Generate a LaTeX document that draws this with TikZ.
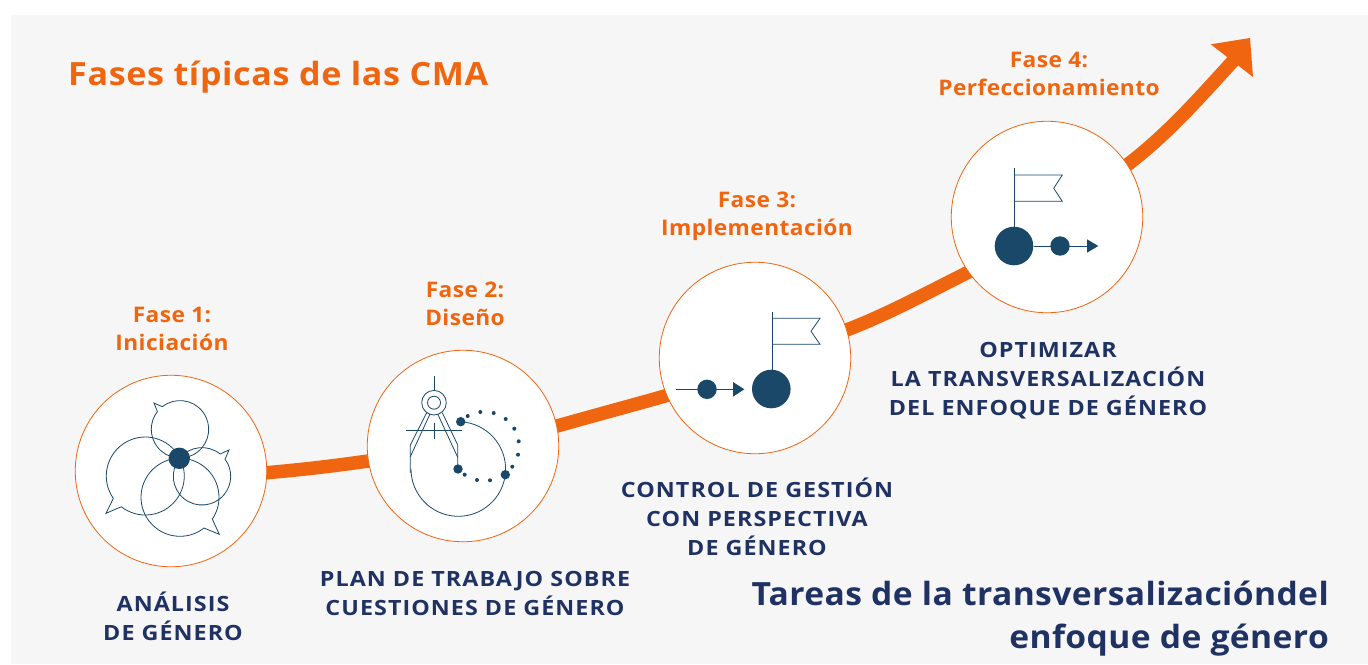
\documentclass[tikz,border=0pt]{standalone}
\usepackage{fontspec}
\setmainfont{Open Sans}
\newfontfamily\titlefont[FakeStretch=1.065,LetterSpace=2]{Open Sans}
\newfontfamily\phasefont[FakeStretch=1.055,LetterSpace=2]{Open Sans}
\newfontfamily\taskfont[FakeStretch=1.11,LetterSpace=5]{Open Sans}
\newfontfamily\bigfont[FakeStretch=1.05,LetterSpace=1.3]{Open Sans}
\usetikzlibrary{calc}
\definecolor{orangeM}{HTML}{F0650F}
\definecolor{iconN}{HTML}{1A4869}
\definecolor{titleN}{HTML}{1F3263}
\definecolor{panel}{HTML}{F6F6F6}
\newcommand{\bubbleicon}[7]{%
  \draw[iconline] ({#1+#3*cos(#4)},{#2-#3*sin(#4)}) arc[start angle=#4,end angle=#5,radius=#3 pt] -- (#6,#7) -- cycle;}
\tikzset{
  iconline/.style={draw=iconN,line width=0.8pt,line join=miter},
  phasecircle/.style={circle,draw=orangeM,fill=white,line width=0.8pt,minimum size=191.5pt,inner sep=0pt},
  bigdot/.style={circle,fill=iconN,inner sep=0pt,minimum size=9.4pt},
  smalldot/.style={circle,fill=iconN,inner sep=0pt,minimum size=4pt},
  road/.style={draw=orangeM,line width=13.5pt,line cap=butt},
  phaselabel/.style={text=orangeM,font=\phasefont\fontsize{21.5}{28}\selectfont\bfseries,align=center,inner sep=0pt},
  tasklabel/.style={text=titleN,font=\taskfont\fontsize{21}{29}\selectfont\bfseries,align=center,inner sep=0pt}
}
\begin{document}
\begin{tikzpicture}[x=1pt,y=-1pt]
\useasboundingbox (0,0) rectangle (1368,664);
\fill[white] (0,0) rectangle (1368,664);
\fill[panel] (11,15) rectangle (1368,664);
\path
  node[phasecircle,draw=none,fill=none] (p1) at (171,471) {}
  node[phasecircle,draw=none,fill=none] (p2) at (463,446) {}
  node[phasecircle,draw=none,fill=none] (p3) at (755,358) {}
  node[phasecircle,draw=none,fill=none] (p4) at (1047,217) {};
\coordinate (tipjoin) at (1234,60);
\draw[road,shorten <=-5pt,shorten >=-5pt] (p1.-1) .. controls +(35,-3) and +(-35,5) .. (p2.189.5);
\draw[road,shorten <=-5pt,shorten >=-5pt] (p2.12) .. controls +(35,-10) and +(-35,10) .. (p3.203);
\draw[road,shorten <=-5pt,shorten >=-5pt] (p3.17.5) .. controls +(40,-15) and +(-40,20) .. (p4.215);
\draw[road,shorten <=-5pt] (p4.33.5) .. controls +(40,-30) and +(-35,38) .. (tipjoin);
\fill[orangeM] (1250,38) -- (1210.7,44.3) -- (1253,77) -- cycle;
% circles
\node[phasecircle] (c1) at (171,471) {};
\node[phasecircle] (c2) at (463,446) {};
\node[phasecircle] (c3) at (755,358) {};
\node[phasecircle] (c4) at (1047,217) {};
% icon 1
\bubbleicon{180}{429.3}{28.7}{128}{-218}{154}{403}
\bubbleicon{145.3}{476}{39}{232}{575}{106}{513.3}
\bubbleicon{180}{497.3}{39}{-34}{308}{219.3}{534.3}
\bubbleicon{202}{476.3}{28.7}{51}{396.5}{229}{450}
\node[circle,fill=iconN,inner sep=0pt,minimum size=21.4pt] (hub) at (179.3,458.3) {};
% icon 2
\draw[iconline] (434,376) -- (434,390.4);
\draw[iconline] (434,402.7) circle[radius=12.3pt];
\draw[iconline] (434,402.7) circle[radius=6.5pt];
\draw[iconline] (406,430) -- (461.7,430);
\draw[iconline] (434,423) -- (434,439.3);
\draw[iconline] (426.7,412.7) -- (410.3,445) -- (410.3,473);
\draw[iconline] (430,414) -- (410.3,456.7);
\draw[iconline] (437.7,414) -- (457.7,457.3);
\draw[iconline] (442.3,412.7) -- (457.7,445) -- (457.7,465);
\draw[iconline] ({458.3+47.3*cos(87)},{469-47.3*sin(87)}) arc[start angle=87,end angle=-180,radius=47.3pt];
\node[bigdot] (d1) at (460.7,421.7) {};
\node[bigdot] (d2) at (458,469) {};
\node[bigdot] (d3) at (505.3,474.7) {};
\foreach \x/\y in {467.7/416,480.3/412,493.7/413,505.7/419,514.3/428.7,518.7/441.3,518/454.7,512.3/466.7,490/480.3,477/480,464.7/474.7}
  \node[smalldot] at (\x,\y) {};
% icon 3
\draw[iconline] (772,311.7) -- (772,370);
\draw[iconline] (772,318.3) -- (820,318.3) -- (811,331.3) -- (820,344.3) -- (772,344.3);
\node[circle,fill=iconN,inner sep=0pt,minimum size=38.6pt] (b3) at (771.3,389) {};
\coordinate (s3) at (676,389.3);
\coordinate (e3) at (733,389.3);
\draw[iconline] (s3) -- (e3);
\node[circle,fill=iconN,inner sep=0pt,minimum size=19.4pt] (m3) at (707,389.3) {};
\fill[iconN] (733,382) -- (744.3,389.3) -- (733,396.7) -- cycle;
% icon 4
\draw[iconline] (1014.7,168.3) -- (1014.7,228);
\draw[iconline] (1014.7,175) -- (1062.3,175) -- (1053.7,188.3) -- (1062.3,201.3) -- (1014.7,201.3);
\node[circle,fill=iconN,inner sep=0pt,minimum size=38.6pt] (b4) at (1014,246) {};
\coordinate (e4) at (1087,246);
\draw[iconline] (b4) -- (e4);
\node[circle,fill=iconN,inner sep=0pt,minimum size=19.4pt] (m4) at (1060,246) {};
\fill[iconN] (1087,239.3) -- (1098.3,246) -- (1087,252.7) -- cycle;
% text
\node[anchor=west,text=orangeM,inner sep=0pt,font=\titlefont\fontsize{32}{38}\selectfont\bfseries] (title) at (68,77) {Fases típicas de las CMA};
\node[phaselabel] (f1) at (172,328.5) {Fase 1:\\Iniciación};
\node[phaselabel] (f2) at (465,303.5) {Fase 2:\\Diseño};
\node[phaselabel] (f3) at (757,216) {Fase 3:\\Implementación};
\node[phaselabel] (f4) at (1049,74) {Fase 4:\\Perfeccionamiento};
\node[tasklabel] (t1) at (173,616.5) {ANÁLISIS\\DE GÉNERO};
\node[tasklabel] (t2) at (475,593) {PLAN DE TRABAJO SOBRE\\CUESTIONES DE GÉNERO};
\node[tasklabel] (t3) at (757,517) {CONTROL DE GESTIÓN\\CON PERSPECTIVA\\DE GÉNERO};
\node[tasklabel] (t4) at (1048,380.5) {OPTIMIZAR\\LA TRANSVERSALIZACIÓN\\DEL ENFOQUE DE GÉNERO};
\node[anchor=east,text=titleN,inner sep=0pt,align=right,font=\bigfont\fontsize{32}{43}\selectfont\bfseries] (big) at (1329,619) {Tareas de la transversalizacióndel\\enfoque de género};
\end{tikzpicture}
\end{document}
